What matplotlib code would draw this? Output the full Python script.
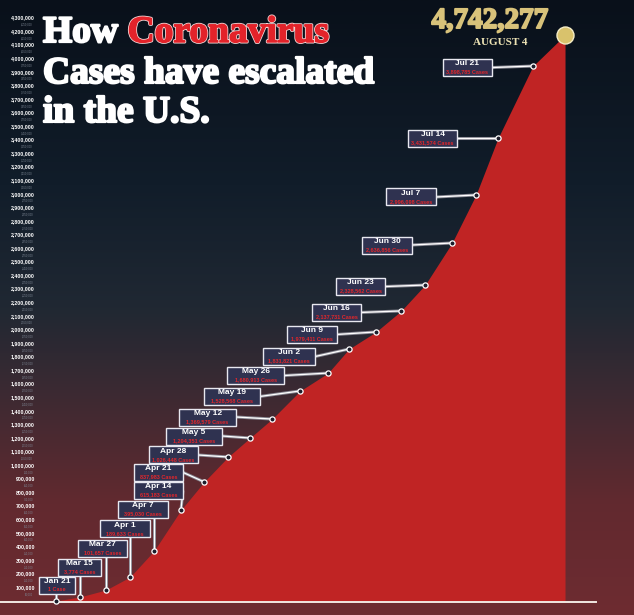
#!/usr/bin/env python3
# -*- coding: utf-8 -*-

# for no display
import matplotlib
matplotlib.use("Agg")

import matplotlib.pyplot as plt
import matplotlib.patheffects as pe
import numpy as np
from matplotlib import font_manager
from matplotlib.patches import Rectangle
from matplotlib.transforms import IdentityTransform
from matplotlib.colors import LinearSegmentedColormap

# ---- data ----
dates = ['Jan 21', 'Mar 15', 'Mar 27', 'Apr 1', 'Apr 7', 'Apr 14', 'Apr 21',
         'Apr 28', 'May 5', 'May 12', 'May 19', 'May 26', 'Jun 2', 'Jun 9',
         'Jun 16', 'Jun 23', 'Jun 30', 'Jul 7', 'Jul 14', 'Jul 21']
label_cases = ['1 Case', '3,774 Cases', '101,657 Cases', '189,633 Cases',
               '395,030 Cases', '615,183 Cases', '837,983 Cases',
               '1,026,448 Cases', '1,204,351 Cases', '1,369,579 Cases',
               '1,528,568 Cases', '1,680,913 Cases', '1,831,821 Cases',
               '1,979,411 Cases', '2,137,731 Cases', '2,328,562 Cases',
               '2,636,856 Cases', '2,996,098 Cases', '3,431,574 Cases',
               '3,898,785 Cases']
# horizontal slot of each point (roughly one per week, last one is Aug 4)
slots = [0, 0.94, 1.96, 2.91, 3.85, 4.91, 5.82, 6.76, 7.62, 8.49, 9.59,
         10.69, 11.51, 12.57, 13.56, 14.5, 15.56, 16.5, 17.37, 18.74, 20.0]
# height at which each point is drawn in the graphic
plotted_cases = [0, 30000, 81000, 177000, 369000, 671000, 878000, 1062000,
                 1202000, 1342000, 1549000, 1681000, 1858000, 1984000,
                 2139000, 2330000, 2640000, 2994000, 3414000, 3945000, 4174000]
total_label = '4,742,277'
total_date = 'AUGUST 4'
major_ticks = list(range(100000, 4300001, 100000))
minor_ticks = list(range(50000, 4250001, 100000))

# ---- layout: box centre offset from its point (pixels) and box width ----
box_layout = [(1, 15.5, 36), (-0.5, 29.5, 43), (-3.5, 41.5, 49), (-5, 48, 50),
              (-11, 41.5, 50), (-22.5, 19.5, 49), (-45.5, 9.5, 49),
              (-54.5, 2, 49), (-56, 2, 56), (-64.5, 2, 57), (-68, -5.5, 56),
              (-72.5, -2.5, 57), (-60, -7.5, 52), (-64, -2.5, 50),
              (-64.5, -1.5, 49), (-64.5, -1.5, 49), (-65, -2, 50),
              (-65, -2, 50), (-65.5, 0, 49), (-65.5, -1.5, 49)]

names = {f.name for f in font_manager.fontManager.ttflist}
narrow = 'Liberation Sans Narrow' in names
nfont = ['Liberation Sans Narrow', 'Liberation Sans', 'DejaVu Sans']
nscale = 1.0 if narrow else 0.82

W, H = 634, 615
fig = plt.figure(figsize=(W / 100, H / 100), dpi=100)
ax = fig.add_axes([0, 0, 1, 1])
xlim = (-2.2, 22.71)
ylim = (-103245, 4432000)
ax.axis('off')

# background gradient, navy at top to dark red at bottom
cmap = LinearSegmentedColormap.from_list('bg', [
    (0.0, '#09101a'), (0.3, '#111d2a'), (0.5, '#202833'),
    (0.65, '#3e2a32'), (0.82, '#62292f'), (1.0, '#6e2c31')])
grad = np.linspace(0, 1, 256).reshape(-1, 1)
ax.imshow(grad, cmap=cmap, aspect='auto', origin='upper',
          extent=(*xlim, *ylim), zorder=0)
ax.set_xlim(*xlim)
ax.set_ylim(*ylim)

# red area
ax.fill_between(slots, plotted_cases, 0, color='#c02424', lw=0, zorder=2)
ax.axhline(-8000, xmin=0, xmax=596 / W, color='#f2e8e2', lw=1.4, zorder=3)

# y labels
ytr = ax.get_yaxis_transform()
for v in major_ticks:
    ax.text(35 / W, v, f'{v:,}', transform=ytr, ha='right', va='center',
            color='white', fontsize=4.6 * nscale, fontweight='bold',
            family=nfont, zorder=3)
for v in minor_ticks:
    ax.text(33 / W, v, f'{v:,}', transform=ytr, ha='right', va='center',
            color='#7d8794', fontsize=2.2 * nscale, family=nfont, zorder=3)

# callout boxes
ident = IdentityTransform()
bh = 17
for i, (d, lab) in enumerate(zip(dates, label_cases)):
    px, py = ax.transData.transform((slots[i], plotted_cases[i]))
    dx, dy, bw = box_layout[i]
    cx, cy = px + dx, py + dy
    if px < cx + bw / 2 - 3:
        sx, sy = px, cy - bh / 2
    else:
        sx, sy = cx + bw / 2, cy
    ax.plot([sx, px], [sy, py], color='#8a8a95', lw=2.2, transform=ident,
            zorder=4, solid_capstyle='butt')
    ax.plot([sx, px], [sy, py], color='white', lw=0.9, transform=ident, zorder=4)
    ax.add_patch(Rectangle((cx - bw / 2, cy - bh / 2), bw, bh, transform=ident,
                           fc='#2f3250', ec='#e8e8f0', lw=1.0, zorder=5))
    ax.text(cx, cy + 3.6, d, transform=ident, ha='center', va='center',
            color='white', fontsize=6, fontweight='bold',
            family=['Liberation Sans', 'DejaVu Sans'], zorder=6)
    ax.text(cx, cy - 4.2, lab, transform=ident, ha='center', va='center',
            color='#e3262b', fontsize=4.8 * nscale, fontweight='bold',
            family=nfont, zorder=6)

ax.scatter(slots[:-1], plotted_cases[:-1], s=14, facecolor='#1c1e2c',
           edgecolor='white', linewidth=0.9, zorder=7)
ax.scatter(slots[-1:], plotted_cases[-1:], s=150, facecolor='#d9c26c',
           edgecolor='#f4ecc6', linewidth=1.0, zorder=7)

# title, thickened with a stroke of its own colour
tfont = ['Liberation Serif', 'DejaVu Serif']
white_fx = [pe.withStroke(linewidth=1.6, foreground='white')]
red_fx = [pe.withStroke(linewidth=2.2, foreground='#f3d6d6'),
          pe.withStroke(linewidth=1.0, foreground='#e3232a')]
how = fig.text(43 / W, 1 - 42 / H, 'How', color='white', fontsize=27,
               fontweight='bold', family=tfont, va='baseline', ha='left',
               path_effects=white_fx)
ax.annotate('Coronavirus', xy=(1, 0), xycoords=how, xytext=(7, 0),
            textcoords='offset points', va='bottom', ha='left',
            color='#e3232a', fontsize=27, fontweight='bold', family=tfont,
            path_effects=red_fx)
fig.text(43 / W, 1 - 83 / H, 'Cases have escalated', color='white',
         fontsize=27, fontweight='bold', family=tfont, va='baseline',
         path_effects=white_fx)
fig.text(43 / W, 1 - 122 / H, 'in the U.S.', color='white',
         fontsize=27, fontweight='bold', family=tfont, va='baseline',
         path_effects=white_fx)

# total
fig.text(490 / W, 1 - 28 / H, total_label, color='#d8c27a', fontsize=21,
         fontweight='bold', family=tfont, ha='center', va='baseline',
         path_effects=[pe.withStroke(linewidth=1.4, foreground='#d8c27a')])
fig.text(500 / W, 1 - 45 / H, total_date, color='#ece2b4', fontsize=8,
         fontweight='bold', family=tfont, ha='center', va='baseline')

fig.savefig('out.png', dpi=100)
